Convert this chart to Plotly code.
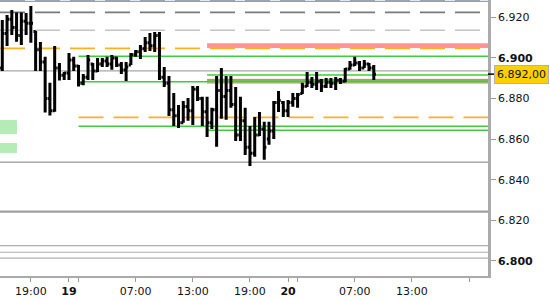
import plotly.graph_objects as go

# ---- OHLC data (30-minute bars) ----
open_ = [6.8950, 6.9120, 6.9190, 6.9150, 6.9110, 6.9180, 6.9170, 6.9130, 6.9040, 6.8980,
         6.8800, 6.8740, 6.8950, 6.8915, 6.8925, 6.8990, 6.8960, 6.8875, 6.8905, 6.8970,
         6.8935, 6.8970, 6.8985, 6.8970, 6.9000, 6.8965, 6.8940, 6.8965, 6.9015, 6.9030,
         6.9045, 6.9075, 6.9060, 6.9110, 6.8905, 6.8875, 6.8745, 6.8715, 6.8680, 6.8760,
         6.8740, 6.8845, 6.8800, 6.8735, 6.8680, 6.8745, 6.8840, 6.8810, 6.8840, 6.8770,
         6.8620, 6.8690, 6.8560, 6.8530, 6.8620, 6.8650, 6.8600, 6.8640, 6.8780, 6.8780,
         6.8740, 6.8780, 6.8800, 6.8825, 6.8860, 6.8880, 6.8870, 6.8885, 6.8860, 6.8880,
         6.8875, 6.8890, 6.8885, 6.8945, 6.8965, 6.8975, 6.8950, 6.8970, 6.8950]
high = [6.9187, 6.9211, 6.9236, 6.9223, 6.9223, 6.9221, 6.9255, 6.9132, 6.9078, 6.9005,
        6.8877, 6.9059, 6.8975, 6.8931, 6.9024, 6.9005, 6.8965, 6.8921, 6.9014, 6.8975,
        6.9000, 6.9000, 6.9005, 6.9014, 6.9005, 6.8980, 6.8980, 6.9024, 6.9039, 6.9064,
        6.9103, 6.9123, 6.9128, 6.9128, 6.8955, 6.8911, 6.8827, 6.8768, 6.8788, 6.8803,
        6.8862, 6.8862, 6.8808, 6.8808, 6.8754, 6.8911, 6.8950, 6.8911, 6.8911, 6.8857,
        6.8808, 6.8754, 6.8665, 6.8709, 6.8734, 6.8685, 6.8685, 6.8788, 6.8837, 6.8788,
        6.8793, 6.8827, 6.8827, 6.8877, 6.8931, 6.8906, 6.8931, 6.8896, 6.8901, 6.8901,
        6.8906, 6.8901, 6.8950, 6.8985, 6.9005, 6.8985, 6.8990, 6.8975, 6.8965]
low = [6.8936, 6.9059, 6.9113, 6.9080, 6.9064, 6.9113, 6.9075, 6.8936, 6.8936, 6.8731,
       6.8716, 6.8735, 6.8889, 6.8891, 6.8891, 6.8936, 6.8859, 6.8865, 6.8891, 6.8891,
       6.8931, 6.8955, 6.8955, 6.8941, 6.8955, 6.8921, 6.8886, 6.8965, 6.9005, 6.8995,
       6.9029, 6.9034, 6.9029, 6.8891, 6.8857, 6.8714, 6.8665, 6.8655, 6.8680, 6.8690,
       6.8670, 6.8788, 6.8665, 6.8611, 6.8650, 6.8562, 6.8700, 6.8695, 6.8754, 6.8591,
       6.8591, 6.8522, 6.8468, 6.8513, 6.8615, 6.8498, 6.8572, 6.8601, 6.8734, 6.8709,
       6.8709, 6.8759, 6.8754, 6.8822, 6.8857, 6.8852, 6.8842, 6.8832, 6.8852, 6.8852,
       6.8842, 6.8872, 6.8880, 6.8941, 6.8960, 6.8936, 6.8950, 6.8936, 6.8891]
close = [6.9120, 6.9190, 6.9150, 6.9110, 6.9180, 6.9170, 6.9170, 6.9040, 6.8980, 6.8800,
         6.8740, 6.8950, 6.8915, 6.8925, 6.8990, 6.8960, 6.8875, 6.8905, 6.8990, 6.8935,
         6.8970, 6.8985, 6.8970, 6.9000, 6.8965, 6.8940, 6.8955, 6.9015, 6.9030, 6.9045,
         6.9075, 6.9060, 6.9110, 6.8905, 6.8875, 6.8745, 6.8715, 6.8680, 6.8760, 6.8740,
         6.8845, 6.8800, 6.8735, 6.8680, 6.8745, 6.8840, 6.8810, 6.8840, 6.8770, 6.8620,
         6.8690, 6.8560, 6.8530, 6.8620, 6.8650, 6.8560, 6.8640, 6.8780, 6.8790, 6.8740,
         6.8780, 6.8800, 6.8820, 6.8860, 6.8880, 6.8870, 6.8885, 6.8860, 6.8880, 6.8875,
         6.8890, 6.8885, 6.8945, 6.8965, 6.8975, 6.8950, 6.8970, 6.8950, 6.8920]

# bar time in trading hours since session start (30-minute bars)
bar_time = [0.5 * i for i in range(len(close))]

last_price = 6.892
last_label = "6.892,00"

# ---- axes ----
x_range = [-0.24, 50.99]
y_range = [6.7926, 6.9285]
x_tickvals = [3, 7, 8, 14, 20, 26, 30, 31, 37, 43, 49]
x_ticktext = ["19:00", "<b>19</b>", "", "07:00", "13:00", "19:00", "<b>20</b>", "", "07:00", "13:00", ""]
y_tickvals = [6.80, 6.82, 6.84, 6.86, 6.88, 6.90, 6.92]
y_ticktext = ["<b>6.800</b>", "6.820", "6.840", "6.860", "6.880", "<b>6.900</b>", "6.920"]

# ---- level lines ----
dashed_levels = [6.9224, 6.9136, 6.9047, 6.8707]
dashed_starts = [x_range[0], x_range[0], x_range[0], 8]
dashed_colors = ["#7a7a7a", "#c4c4c4", "#FFB020", "#FFB020"]

green_levels = [6.9008, 6.8882, 6.8663, 6.8916, 6.8891, 6.8644]
green_starts = [8, 8, 8, 21.5, 21.5, 21.5]

gray_levels = [6.8936, 6.8486, 6.8243, 6.8076, 6.8043, 6.8014]
gray_widths = [1.4, 1.3, 2.2, 1.2, 1.2, 1.2]
gray_colors = ["#a8a8a8", "#a8a8a8", "#a0a0a0", "#b0b0b0", "#b0b0b0", "#b0b0b0"]

red_zone = [6.9049, 6.9072]
pink_zone = [6.8873, 6.8897]
zone_start = 21.5

left_boxes = [[6.8625, 6.8694], [6.8532, 6.8581]]
left_box_end = 1.54

fig = go.Figure()
fig.add_trace(go.Ohlc(
    x=bar_time, open=open_, high=high, low=low, close=close,
    increasing=dict(line=dict(color="black", width=3)),
    decreasing=dict(line=dict(color="black", width=3)),
    tickwidth=0.45, hoverinfo="skip", showlegend=False,
))

shapes = []
x_far = 60
shapes.append(dict(type="rect", xref="x", yref="y", x0=zone_start, x1=x_far,
                   y0=red_zone[0], y1=red_zone[1], fillcolor="#FF9494", line=dict(width=0), layer="below"))
shapes.append(dict(type="rect", xref="x", yref="y", x0=zone_start, x1=x_far,
                   y0=pink_zone[0], y1=pink_zone[1], fillcolor="#FFA0A0", line=dict(width=0), layer="below"))
for lv, st, col in zip(dashed_levels, dashed_starts, dashed_colors):
    shapes.append(dict(type="line", xref="x", yref="y", x0=st, x1=x_far, y0=lv, y1=lv,
                       line=dict(color=col, width=1.7, dash="25px,10px"), layer="below"))
for lv, col, w in zip(gray_levels, gray_colors, gray_widths):
    shapes.append(dict(type="line", xref="x", yref="y", x0=x_range[0], x1=x_far, y0=lv, y1=lv,
                       line=dict(color=col, width=w), layer="below"))
for lv, st in zip(green_levels, green_starts):
    shapes.append(dict(type="line", xref="x", yref="y", x0=st, x1=x_far, y0=lv, y1=lv,
                       line=dict(color="#3ECC3E", width=1.5), layer="below"))
for b in left_boxes:
    shapes.append(dict(type="rect", xref="x", yref="y", x0=x_range[0], x1=left_box_end,
                       y0=b[0], y1=b[1], fillcolor="#B5EBB5", line=dict(width=0), layer="below"))
# top border lines
shapes.append(dict(type="line", xref="paper", yref="paper", x0=0, x1=1, y0=1, y1=1,
                   line=dict(color="#888888", width=1.5, dash="25px,10px")))
shapes.append(dict(type="line", xref="paper", yref="paper", x0=0, x1=1, y0=0.995, y1=0.995,
                   line=dict(color="#7AA5E8", width=1.2)))
# last-price tick
shapes.append(dict(type="line", xref="paper", yref="y", x0=1.0, x1=1.013, y0=last_price, y1=last_price,
                   line=dict(color="black", width=1.5)))

fig.update_layout(
    width=550, height=300,
    margin=dict(l=0, r=62, t=0, b=24),
    paper_bgcolor="white", plot_bgcolor="white",
    font=dict(family="DejaVu Sans", size=11, color="#111111"),
    shapes=shapes,
    showlegend=False,
    xaxis=dict(range=x_range, rangeslider=dict(visible=False), showgrid=False, zeroline=False,
               tickmode="array", tickvals=x_tickvals, ticktext=x_ticktext,
               ticks="outside", ticklen=4, tickcolor="#999999",
               showline=True, linecolor="#aaaaaa", linewidth=2),
    yaxis=dict(range=y_range, side="right", showgrid=False, zeroline=False,
               tickmode="array", tickvals=y_tickvals, ticktext=y_ticktext,
               ticks="outside", ticklen=5, tickcolor="#999999",
               showline=True, linecolor="#aaaaaa", linewidth=2.5),
    annotations=[dict(xref="paper", yref="y", x=1.013, y=last_price, text=last_label,
                      showarrow=False, xanchor="left", yanchor="middle",
                      bgcolor="#FFD000", bordercolor="#B0B0B0", borderwidth=1, borderpad=2,
                      font=dict(family="DejaVu Sans", size=11, color="#111111"))],
)

fig.write_html("out.html")
